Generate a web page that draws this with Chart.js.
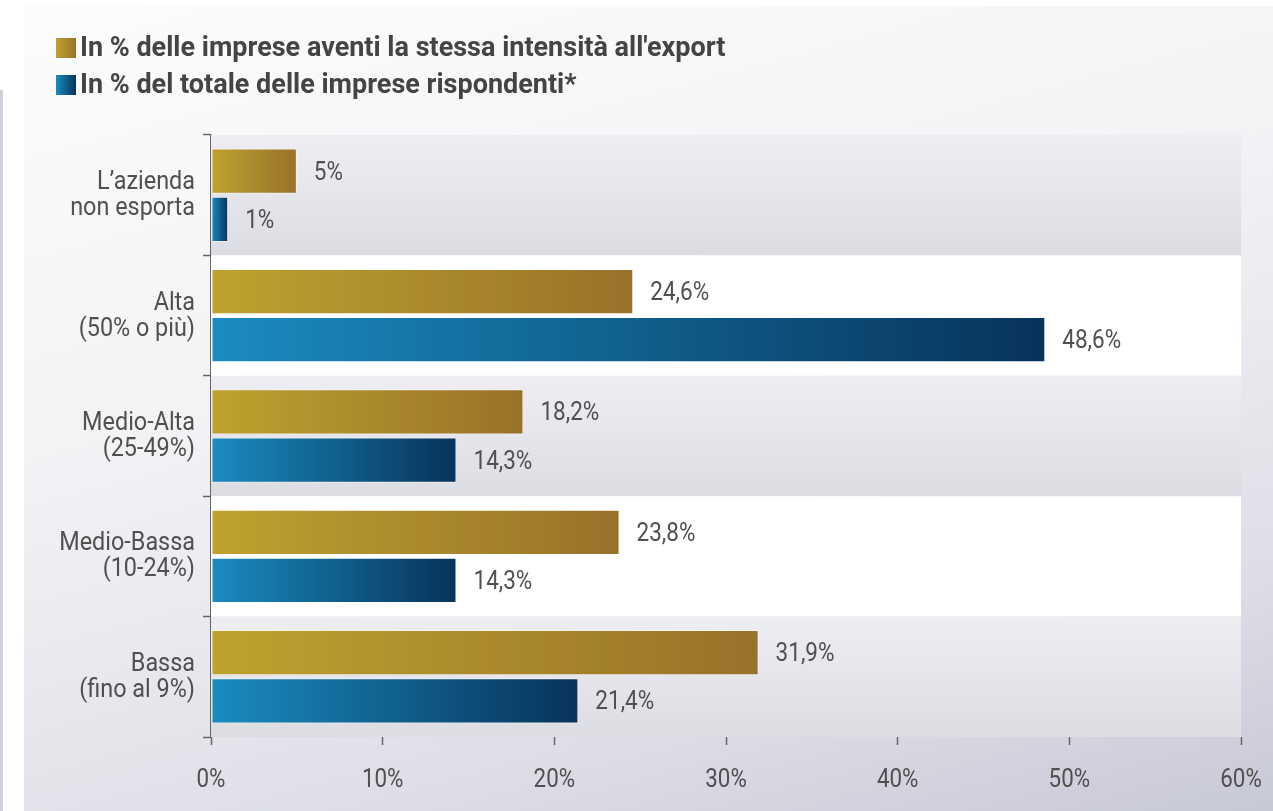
<!DOCTYPE html>
<html>
<head>
<meta charset="utf-8">
<script src="https://cdn.jsdelivr.net/npm/chart.js@4"></script>
<style>
  html, body { margin: 0; padding: 0; background: #fff; }
  body { width: 1273px; height: 811px; position: relative; overflow: hidden; }
  #panel {
    position: absolute; left: 24px; top: 6px; right: 0; bottom: 0;
    background: linear-gradient(165deg, #fcfcfd 0%, #f3f3f6 40%, #e0e1e8 75%, #c8c9d6 100%);
  }
  #strip { position: absolute; left: 0; top: 90px; width: 3px; bottom: 0; background: #cfd0dc; }
  #legend {
    position: absolute; left: 56px; top: 29px;
    font-family: "Roboto", sans-serif;
    font-weight: bold; font-size: 27px; color: #444; line-height: 37px;
  }
  .item { display: flex; align-items: center; }
  .sw { width: 20px; height: 20px; margin-right: 4px; }
  #c { position: absolute; left: 0; top: 0; }
</style>
</head>
<body>
<div id="panel"></div>
<div id="strip"></div>
<canvas id="c" width="1273" height="811"></canvas>
<div id="legend"></div>
<script>
const categories = [
  ["L\u2019azienda", "non esporta"],
  ["Alta", "(50% o più)"],
  ["Medio-Alta", "(25-49%)"],
  ["Medio-Bassa", "(10-24%)"],
  ["Bassa", "(fino al 9%)"]
];
const seriesNames = [
  "In % delle imprese aventi la stessa intensità all'export",
  "In % del totale delle imprese rispondenti*"
];
const sameIntensity = [5, 24.6, 18.2, 23.8, 31.9];
const totalResp = [1, 48.6, 14.3, 14.3, 21.4];
const xTicks = [0, 10, 20, 30, 40, 50, 60];

const FONT = "Roboto, sans-serif";
const TEXT = "#505050";
const gold = ["#bfa22e", "#98722a"];
const blue = ["#1a8cc0", "#07335a"];

// legend
const legend = document.getElementById("legend");
[gold, blue].forEach((cols, i) => {
  const row = document.createElement("div");
  row.className = "item";
  row.innerHTML = `<span class="sw" style="background:linear-gradient(90deg, ${cols[0]}, ${cols[1]})"></span>${seriesNames[i]}`;
  legend.appendChild(row);
});

function barGradient(cols) {
  return (ctx) => {
    const chart = ctx.chart;
    const x = chart.scales.x;
    if (!chart.chartArea || !x || ctx.parsed === undefined) return cols[0];
    const x0 = x.getPixelForValue(0);
    const x1 = x.getPixelForValue(ctx.parsed.x);
    if (x1 - x0 < 1) return cols[0];
    const g = chart.ctx.createLinearGradient(x0, 0, x1, 0);
    g.addColorStop(0, cols[0]);
    g.addColorStop(1, cols[1]);
    return g;
  };
}

// testo "condensato": scala orizzontale
function narrowText(ctx, txt, x, y, align, size, sx) {
  ctx.save();
  ctx.font = size + "px " + FONT;
  ctx.fillStyle = TEXT;
  ctx.textBaseline = "alphabetic";
  const w = ctx.measureText(txt).width * sx;
  let left = x;
  if (align === "right") left = x - w;
  if (align === "center") left = x - w / 2;
  ctx.translate(left, y);
  ctx.scale(sx, 1);
  ctx.fillText(txt, 0, 0);
  ctx.restore();
}

/* bande alternate dietro le barre */
const bandsPlugin = {
  id: "bands",
  beforeDatasetsDraw(chart) {
    const { ctx, chartArea, scales } = chart;
    const y = scales.y;
    const step = (chartArea.bottom - chartArea.top) / categories.length;
    categories.forEach((c, i) => {
      const top = y.getPixelForValue(i) - step / 2;
      ctx.save();
      if (i % 2 === 0) {
        const g = ctx.createLinearGradient(0, top, 0, top + step);
        g.addColorStop(0, "#eeeef2");
        g.addColorStop(1, "#dcdde3");
        ctx.fillStyle = g;
      } else {
        ctx.fillStyle = "#ffffff";
      }
      ctx.fillRect(chartArea.left, top, chartArea.right - chartArea.left, step);
      ctx.restore();
    });
  }
};

/* etichette assi e valori */
const labelsPlugin = {
  id: "labels",
  afterDraw(chart) {
    const { ctx, scales } = chart;
    categories.forEach((lines, i) => {
      const cy = scales.y.getPixelForValue(i);
      narrowText(ctx, lines[0], 195, cy - 6, "right", 26, 0.9);
      narrowText(ctx, lines[1], 195, cy + 20, "right", 26, 0.9);
    });
    xTicks.forEach((v) => {
      narrowText(ctx, v + "%", scales.x.getPixelForValue(v), 787, "center", 26, 0.86);
    });
    chart.data.datasets.forEach((ds, di) => {
      chart.getDatasetMeta(di).data.forEach((bar, i) => {
        const txt = String(ds.data[i]).replace(".", ",") + "%";
        narrowText(ctx, txt, bar.x + 17, bar.y + 8.5, "left", 25, 0.9);
      });
    });
  }
};

new Chart(document.getElementById("c"), {
  type: "bar",
  data: {
    labels: categories,
    datasets: [
      { label: seriesNames[0], data: sameIntensity, backgroundColor: barGradient(gold),
        borderColor: "rgba(255,255,255,0.45)", borderWidth: 1, borderSkipped: false },
      { label: seriesNames[1], data: totalResp, backgroundColor: barGradient(blue),
        borderColor: "rgba(255,255,255,0.45)", borderWidth: 1, borderSkipped: false }
    ]
  },
  options: {
    indexAxis: "y",
    responsive: false,
    animation: false,
    categoryPercentage: 0.8,
    barPercentage: 0.94,
    layout: { padding: { top: 135, right: 32, bottom: 0, left: 0 } },
    plugins: { legend: { display: false }, tooltip: { enabled: false } },
    scales: {
      x: {
        min: 0, max: 60,
        afterBuildTicks: (s) => { s.ticks = xTicks.map(v => ({ value: v })); },
        afterFit: (s) => { s.height = 74; },
        border: { display: false },
        grid: { drawOnChartArea: false, tickLength: 8, color: "#666", tickWidth: 1.5 },
        ticks: { display: false }
      },
      y: {
        afterFit: (s) => { s.width = 211; },
        border: { display: true, color: "#666", width: 1.5 },
        grid: { drawOnChartArea: false, tickLength: 8, color: "#666", tickWidth: 1.5 },
        ticks: { display: false }
      }
    }
  },
  plugins: [bandsPlugin, labelsPlugin]
});
</script>
</body>
</html>
